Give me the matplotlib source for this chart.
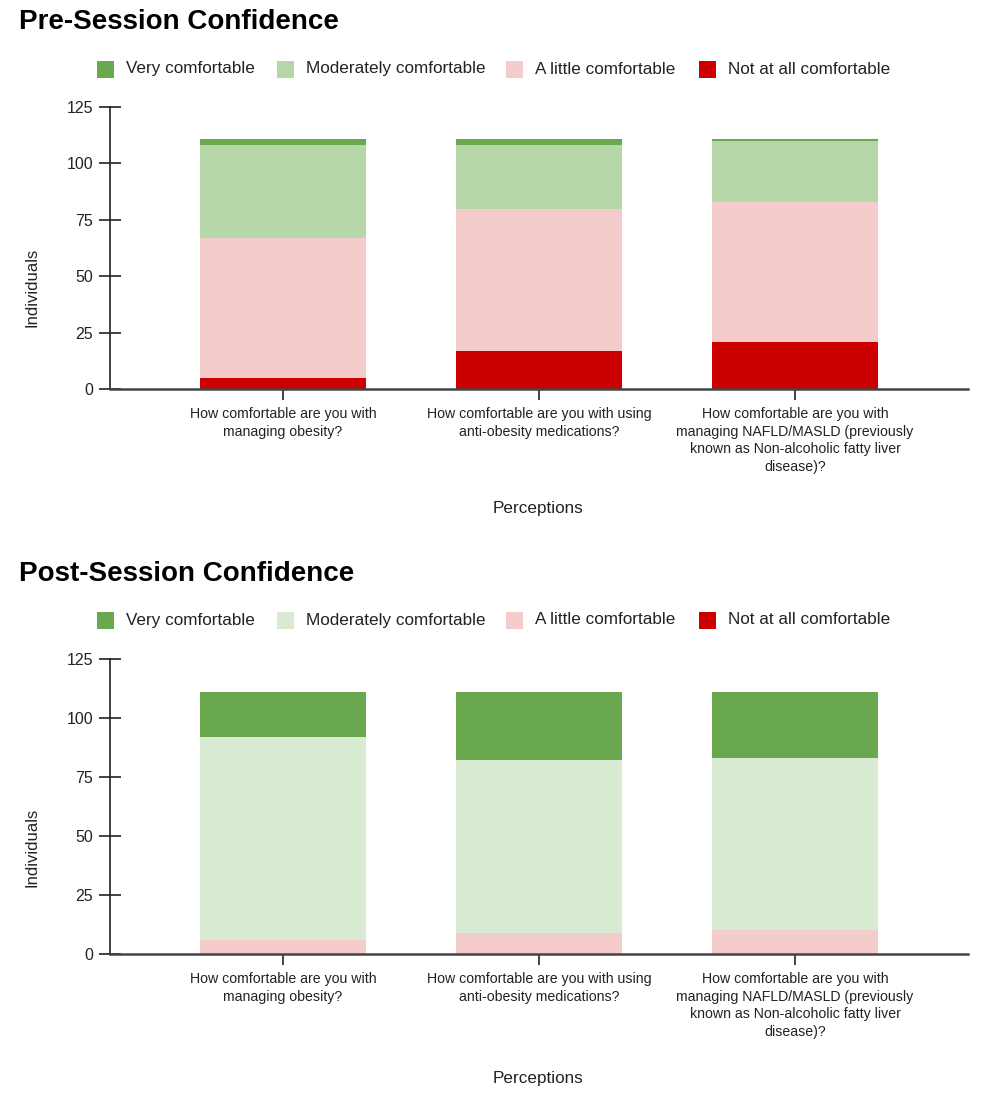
import matplotlib
matplotlib.use("Agg")
import matplotlib.pyplot as plt
from matplotlib.patches import Rectangle
import numpy as np

plt.rcParams['font.family'] = ['Liberation Sans', 'DejaVu Sans']

categories = [
    "How comfortable are you with\nmanaging obesity?",
    "How comfortable are you with using\nanti-obesity medications?",
    "How comfortable are you with\nmanaging NAFLD/MASLD (previously\nknown as Non-alcoholic fatty liver\ndisease)?",
]
series_names = ["Very comfortable", "Moderately comfortable", "A little comfortable", "Not at all comfortable"]

# Pre-session values (per category)
pre_not_at_all = [5, 17, 21]
pre_a_little = [62, 63, 62]
pre_moderately = [41, 28, 27]
pre_very = [3, 3, 1]

# Post-session values (per category)
post_not_at_all = [0, 0, 0]
post_a_little = [6, 9, 10]
post_moderately = [86, 73, 73]
post_very = [19, 29, 28]

y_ticks = [0, 25, 50, 75, 100, 125]

pre_colors = ["#6aa84f", "#b6d7a8", "#f4cccc", "#cc0000"]
post_colors = ["#6aa84f", "#d9ead3", "#f4cccc", "#cc0000"]

W, H = 986, 1099
fig = plt.figure(figsize=(W / 100, H / 100), dpi=100)


def px_x(x):
    return x / W


def px_y(y):
    return 1 - y / H


def draw_panel(top_px, bottom_px, title, title_y, legend_y, perc_y, data, colors):
    ax = fig.add_axes([px_x(110), px_y(bottom_px), (968 - 110) / W, (bottom_px - top_px) / H])
    x = np.arange(len(categories))
    width = 0.645
    bottom = np.zeros(len(categories))
    # stack order: not at all (bottom), a little, moderately, very (top)
    stack = [(data[3], colors[3]), (data[2], colors[2]), (data[1], colors[1]), (data[0], colors[0])]
    for vals, c in stack:
        vals = np.array(vals, dtype=float)
        ax.bar(x, vals, width, bottom=bottom, color=c, edgecolor='none', zorder=2)
        bottom += vals
    ax.set_xlim(-0.676, 2.676)
    ax.set_ylim(0, 125)
    ax.set_yticks(y_ticks)
    ax.set_xticks(x)
    ax.set_xticklabels(categories, fontsize=10.2, linespacing=1.32, color="#222222")
    ax.tick_params(axis='y', direction='inout', length=16, width=1.2, labelsize=11.5, pad=4, colors="#222222")
    ax.tick_params(axis='x', direction='inout', length=16, width=1.2, pad=5, colors="#222222")
    for s in ['top', 'right']:
        ax.spines[s].set_visible(False)
    ax.spines['left'].set_color('#222222')
    ax.spines['left'].set_linewidth(1.2)
    ax.spines['bottom'].set_color('#444444')
    ax.spines['bottom'].set_linewidth(1.8)
    ax.spines['bottom'].set_zorder(3)
    ax.set_ylabel("Individuals", fontsize=12, color="#222222")
    ax.yaxis.set_label_coords(-(110 - 39) / (968 - 110), 0.362)
    fig.text(px_x(538), px_y(perc_y), "Perceptions", ha='center', va='center', fontsize=12.3, color="#222222")
    fig.text(px_x(19), px_y(title_y), title, ha='left', va='center', fontsize=20, fontweight='bold', color='black')
    sq_x = [97, 277, 506, 699]
    for name, c, sx in zip(series_names, colors, sq_x):
        fig.patches.append(Rectangle((px_x(sx), px_y(legend_y + 8.5)), 17 / W, 17 / H,
                                     transform=fig.transFigure, facecolor=c, edgecolor='none'))
        fig.text(px_x(sx + 29), px_y(legend_y), name, ha='left', va='center', fontsize=12.3, color="#222222")
    return ax


draw_panel(107, 389, "Pre-Session Confidence", 22, 69, 509,
           [pre_very, pre_moderately, pre_a_little, pre_not_at_all], pre_colors)
draw_panel(659, 954, "Post-Session Confidence", 574, 620, 1078,
           [post_very, post_moderately, post_a_little, post_not_at_all], post_colors)

fig.savefig("out.png", dpi=100)
